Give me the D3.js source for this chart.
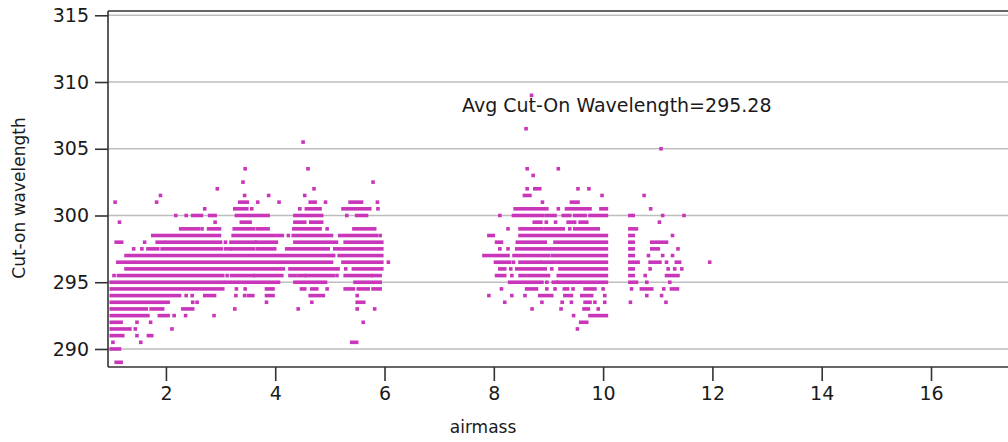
<!DOCTYPE html>
<html>
<head>
<meta charset="utf-8">
<script src="https://cdn.jsdelivr.net/npm/d3@7/dist/d3.min.js"></script>
<style>
  html, body { margin: 0; padding: 0; background: #fff; overflow: hidden; }
  svg { display: block; }
  text { font-family: "DejaVu Sans", "Noto Sans", sans-serif; fill: #1a1a1a; }
</style>
</head>
<body>
<svg id="chart" width="1008" height="442"></svg>
<script>
// ---- Data ----
// Cut-on wavelength is quantized in 0.5 nm steps; each row lists the airmass
// values observed at that wavelength: a single number is one point, a pair
// [a, b] is a run of adjacent points from airmass a to airmass b.
const wavelengthRows = [
  [309.0, [8.69]],
  [306.5, [8.59]],
  [305.5, [4.51]],
  [305.0, [11.06]],
  [303.5, [3.45, 4.60, 8.61, 9.18]],
  [303.0, [8.72]],
  [302.5, [3.41, 5.79]],
  [302.0, [2.94, 4.71, 8.61, [8.75, 8.84], 9.54, 9.74]],
  [301.5, [1.90, 3.44, 3.88, 4.54, [8.56, 8.66], 9.98, 10.75]],
  [301.0, [1.07, 1.83, [3.35, 3.49], 3.68, 4.07, [4.64, 4.73], 4.92, [5.37, 5.58], 5.87, 8.89, [9.42, 9.54]]],
  [300.5, [2.71, [3.26, 3.48], 3.57, 4.45, [4.57, 4.82], [5.24, 5.43], [5.49, 5.73], 5.88, [8.39, 8.97], 9.18, [9.33, 9.76], [9.96, 10.06], 10.87]],
  [300.0, [2.18, 2.37, [2.49, 2.65], [2.80, 2.90], [3.29, 3.87], [4.36, 4.85], 5.31, [5.49, 5.67], 8.11, [8.36, 8.90], [8.97, 9.12], [9.27, 9.39], [9.48, 9.67], [9.76, 10.06], [10.49, 10.55], 11.09, 11.48]],
  [299.5, [1.15, 2.90, [3.38, 3.54], [4.36, 4.54], [4.65, 4.85], [8.74, 8.86], 8.96, 9.13, [9.36, 9.48], [9.58, 9.70], 11.03]],
  [299.0, [[2.27, 2.59], 2.66, [2.78, 2.98], [3.25, 3.60], [3.67, 3.87], [4.34, 4.82], 4.95, [5.44, 5.82], 8.26, [8.48, 8.88], [8.94, 9.27], 9.39, [9.48, 9.91], [10.49, 10.61]]],
  [298.5, [[1.76, 2.98], [3.23, 3.99], [4.05, 4.13], 4.24, [4.33, 5.03], [5.18, 5.85], 5.92, [7.91, 7.99], [8.48, 10.06], [10.49, 10.55], 11.27]],
  [298.0, [[1.09, 1.19], 1.61, [1.84, 1.96], [2.01, 3.00], 3.09, [3.19, 3.63], [3.65, 4.02], [4.36, 4.97], [5.03, 5.12], [5.28, 5.95], [8.05, 8.14], [8.43, 8.63], [8.69, 8.94], [9.12, 10.06], [10.49, 10.55], [10.89, 11.16]]],
  [297.5, [1.41, 1.56, [1.67, 1.85], [1.93, 3.01], [3.09, 3.18], [3.22, 3.60], [3.67, 3.99], [4.21, 4.97], [5.09, 5.18], [5.24, 5.95], 8.11, 8.26, [8.42, 9.03], [9.09, 10.06], [10.49, 10.55], [10.89, 11.01], 11.37]],
  [297.0, [[1.27, 4.06], [4.12, 5.03], 5.07, [5.17, 5.95], [7.82, 8.05], [8.11, 8.26], [8.37, 9.00], [9.07, 9.15], [9.21, 10.06], [10.49, 10.55], 10.83, 11.09, 11.27]],
  [296.5, [[1.12, 1.40], [1.45, 5.03], [5.24, 5.95], 6.07, [8.03, 8.29], 8.36, [8.48, 8.84], [8.88, 9.12], [9.18, 10.06], [10.49, 10.64], [10.86, 11.04], 11.16, [11.34, 11.40], 11.95]],
  [296.0, [[1.27, 4.09], 4.15, [4.27, 5.15], 5.29, [5.43, 5.95], [8.11, 8.20], 8.31, [8.42, 8.94], 9.06, [9.21, 10.06], [10.49, 10.55], 10.86, 11.19, 11.31, 11.44]],
  [295.5, [1.05, [1.13, 3.04], 3.12, [3.20, 3.60], [3.63, 4.12], [4.27, 4.36], [4.42, 4.54], [4.57, 5.06], 5.13, [5.28, 5.76], [5.79, 5.92], [8.05, 8.20], 8.33, [8.48, 8.57], [8.63, 8.94], 9.00, [9.18, 10.06], [10.49, 10.55], 10.77, [11.16, 11.37]]],
  [295.0, [[1.00, 3.04], [3.09, 4.06], [4.36, 4.92], [5.46, 5.92], [8.29, 8.88], 8.97, [9.09, 9.15], [9.18, 10.06], [10.49, 10.61], 10.80, 11.22]],
  [294.5, [[1.00, 3.04], 3.29, 3.45, [3.84, 3.96], [4.48, 4.54], [4.67, 4.76], 4.95, [5.28, 5.43], [5.52, 5.70], [5.79, 5.92], 8.14, [8.60, 8.78], 8.97, 9.12, [9.29, 9.35], 9.45, [9.67, 9.85], 10.00, 10.52, [10.70, 10.89], 11.11, [11.25, 11.36]]],
  [294.0, [[1.00, 2.19], 2.25, 2.37, 2.48, [2.71, 2.89], 3.28, 3.44, [3.51, 3.59], [3.84, 3.96], [4.64, 4.88], 5.50, 7.91, 8.33, 8.57, [8.84, 9.06], [9.30, 9.42], [9.61, 9.79], 10.03, 10.80, 11.07]],
  [293.5, [[1.00, 2.04], 2.49, 2.57, 3.84, 4.67, [5.50, 5.62], 8.20, 8.88, 9.25, 9.42, [9.67, 9.76], 9.85, 10.03, 10.50, 11.15]],
  [293.0, [[1.00, 1.64], [1.73, 1.94], [2.31, 2.49], 3.26, 4.42, 5.50, 5.82, 8.70, 9.23, [9.65, 9.73], 9.91]],
  [292.5, [[1.00, 1.67], [1.88, 2.04], 2.15, 2.36, 2.88, 9.46, [9.76, 10.06]]],
  [292.0, [[1.00, 1.18], 1.47, 1.72, 5.61, [9.59, 9.70]]],
  [291.5, [[1.00, 1.34], 1.44, 2.11, 9.53]],
  [291.0, [[1.00, 1.21], 1.47, [1.68, 1.74]]],
  [290.5, [1.03, 1.54, [5.40, 5.49]]],
  [290.0, [[1.00, 1.15]]],
  [289.0, [[1.09, 1.18]]]
];

const xTicks = [2, 4, 6, 8, 10, 12, 14, 16];
const yTicks = [290, 295, 300, 305, 310, 315];
const xDomain = [0.94, 18];
const yDomain = [288.65, 315.32];
const xTitle = "airmass";
const yTitle = "Cut-on wavelength";
const avgLabel = "Avg Cut-On Wavelength=295.28";

// ---- Layout ----
const plot = { left: 108, top: 11, bottom: 367, right: 1040.3 };
const pointColor = "#c936b9";

const svg = d3.select("#chart");
const x = d3.scaleLinear().domain(xDomain).range([plot.left, plot.right]);
const y = d3.scaleLinear().domain(yDomain).range([plot.bottom, plot.top]);

// gridlines
svg.append("g")
  .selectAll("line")
  .data(yTicks)
  .join("line")
  .attr("x1", plot.left).attr("x2", plot.right)
  .attr("y1", d => y(d)).attr("y2", d => y(d))
  .attr("stroke", "#bdbdbd").attr("stroke-width", 1.5);

// runs -> flat list
const runs = [];
wavelengthRows.forEach(([wl, items]) => {
  items.forEach(it => {
    if (Array.isArray(it)) runs.push({ wl, a: it[0], b: it[1] });
    else runs.push({ wl, a: it, b: it });
  });
});

const half = 1.8;
svg.append("g")
  .selectAll("rect")
  .data(runs)
  .join("rect")
  .attr("x", d => x(d.a) - half)
  .attr("y", d => y(d.wl) - half)
  .attr("width", d => x(d.b) - x(d.a) + 2 * half)
  .attr("height", 2 * half)
  .attr("fill", pointColor);

// frame (top + left) and axes
svg.append("line")
  .attr("x1", plot.left).attr("x2", plot.right)
  .attr("y1", plot.top).attr("y2", plot.top)
  .attr("stroke", "#333").attr("stroke-width", 1.6);

const yAxis = d3.axisLeft(y).tickValues(yTicks).tickSize(13).tickPadding(6).tickFormat(d3.format("d"));
const gy = svg.append("g").attr("transform", `translate(${plot.left},0)`).call(yAxis);
gy.select(".domain").remove();
gy.append("line").attr("x1", 0).attr("x2", 0).attr("y1", plot.top).attr("y2", plot.bottom)
  .attr("stroke", "#333").attr("stroke-width", 1.6);
gy.selectAll(".tick line").attr("stroke", "#333").attr("stroke-width", 1.6);
gy.selectAll(".tick text").attr("font-size", 19).attr("fill", "#1a1a1a")
  .style("font-family", '"DejaVu Sans", sans-serif');

const xAxis = d3.axisBottom(x).tickValues(xTicks).tickSize(14).tickPadding(6).tickFormat(d3.format("d"));
const gx = svg.append("g").attr("transform", `translate(0,${plot.bottom})`).call(xAxis);
gx.select(".domain").remove();
gx.append("line").attr("x1", plot.left).attr("x2", plot.right).attr("y1", 0).attr("y2", 0)
  .attr("stroke", "#333").attr("stroke-width", 1.6);
gx.selectAll(".tick line").attr("stroke", "#333").attr("stroke-width", 1.6);
gx.selectAll(".tick text").attr("font-size", 19).attr("fill", "#1a1a1a")
  .style("font-family", '"DejaVu Sans", sans-serif');

// titles
svg.append("text")
  .attr("x", 483).attr("y", 433)
  .attr("text-anchor", "middle").attr("font-size", 17)
  .text(xTitle);

svg.append("text")
  .attr("transform", `translate(25,${(plot.top + plot.bottom) / 2 + 9}) rotate(-90)`)
  .attr("text-anchor", "middle").attr("font-size", 17)
  .text(yTitle);

// annotation
svg.append("text")
  .attr("x", 462).attr("y", 112)
  .attr("font-size", 19)
  .text(avgLabel);
</script>
</body>
</html>
